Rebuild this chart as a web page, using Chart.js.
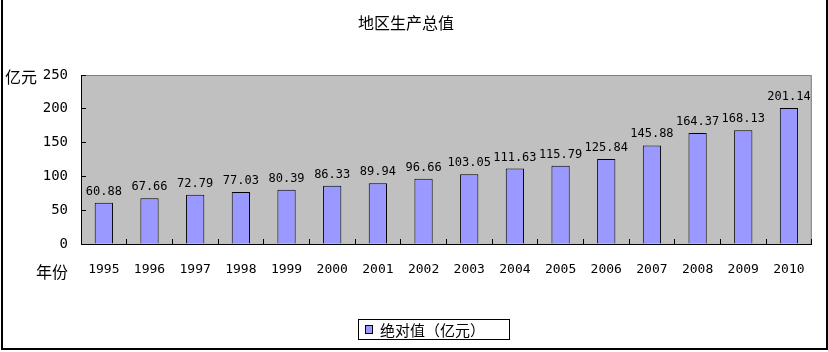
<!DOCTYPE html>
<html>
<head>
<meta charset="utf-8">
<script src="https://cdn.jsdelivr.net/npm/chart.js@4/dist/chart.umd.min.js"></script>
<style>
  html, body { margin: 0; padding: 0; background: #fff; }
  #wrap { width: 828px; height: 352px; }
</style>
</head>
<body>
<div id="wrap"><canvas id="barChart" width="828" height="352"></canvas></div>
<script>
// 数据
const years = ['1995','1996','1997','1998','1999','2000','2001','2002','2003','2004','2005','2006','2007','2008','2009','2010'];
const values = [60.88, 67.66, 72.79, 77.03, 80.39, 86.33, 89.94, 96.66, 103.05, 111.63, 115.79, 125.84, 145.88, 164.37, 168.13, 201.14];
const valueLabels = ['60.88','67.66','72.79','77.03','80.39','86.33','89.94','96.66','103.05','111.63','115.79','125.84','145.88','164.37','168.13','201.14'];
const yTicks = [0, 50, 100, 150, 200, 250];
const chartTitle = '地区生产总值';
const yUnit = '亿元';
const xUnit = '年份';
const seriesName = '绝对值（亿元）';

const CJK = '"Noto Sans CJK SC", sans-serif';
const MONO = '"DejaVu Sans Mono", monospace';

// 画背景、边框、标题、数据标签和图例
const decorPlugin = {
    id: 'decor',
    beforeDraw(chart) {
        const { ctx, chartArea: a } = chart;
        ctx.save();
        ctx.fillStyle = '#fff';
        ctx.fillRect(0, 0, chart.width, chart.height);
        ctx.fillStyle = '#c0c0c0';
        ctx.fillRect(a.left, a.top, a.right - a.left, a.bottom - a.top);
        ctx.strokeStyle = '#808080';
        ctx.lineWidth = 1;
        ctx.beginPath();
        ctx.moveTo(a.left, a.top + 0.5);
        ctx.lineTo(a.right - 0.5, a.top + 0.5);
        ctx.lineTo(a.right - 0.5, a.bottom);
        ctx.stroke();
        ctx.restore();
    },
    afterDraw(chart) {
        const { ctx } = chart;
        ctx.save();
        // 外框
        ctx.fillStyle = '#000';
        ctx.fillRect(1, 0, 2, 350);
        ctx.fillRect(826, 0, 2, 350);
        ctx.fillRect(1, 348, 827, 2);

        // 标题
        ctx.fillStyle = '#000';
        ctx.textAlign = 'center';
        ctx.textBaseline = 'middle';
        ctx.font = '16px ' + CJK;
        ctx.fillText(chartTitle, 406, 23);

        // 轴单位
        ctx.textAlign = 'left';
        ctx.fillText(yUnit, 5, 77);
        ctx.fillText(xUnit, 36, 272);

        // 数据标签
        ctx.textAlign = 'center';
        ctx.textBaseline = 'alphabetic';
        ctx.font = '12px ' + MONO;
        const meta = chart.getDatasetMeta(0);
        meta.data.forEach((bar, i) => {
            ctx.fillText(valueLabels[i], bar.x, bar.y - 8);
        });

        // 图例
        const lx = 358, ly = 319, lw = 151, lh = 20;
        ctx.fillStyle = '#fff';
        ctx.fillRect(lx, ly, lw, lh);
        ctx.strokeStyle = '#000';
        ctx.lineWidth = 1;
        ctx.strokeRect(lx + 0.5, ly + 0.5, lw, lh);
        ctx.fillStyle = '#9999ff';
        ctx.fillRect(365, 325, 7, 8);
        ctx.strokeRect(365.5, 325.5, 7, 8);
        ctx.fillStyle = '#000';
        ctx.textAlign = 'left';
        ctx.textBaseline = 'middle';
        ctx.font = '15px ' + CJK;
        ctx.fillText(seriesName, 380, 330);
        ctx.restore();
    }
};

new Chart(document.getElementById('barChart').getContext('2d'), {
    type: 'bar',
    data: {
        labels: years,
        datasets: [{
            label: seriesName,
            data: values,
            backgroundColor: '#9999ff',
            borderColor: '#000',
            borderWidth: 1,
            categoryPercentage: 1,
            barPercentage: 0.4
        }]
    },
    options: {
        responsive: false,
        animation: false,
        layout: { padding: { top: 75, left: 0, right: 13, bottom: 0 } },
        plugins: {
            legend: { display: false },
            title: { display: false },
            tooltip: { enabled: false }
        },
        scales: {
            x: {
                grid: { drawOnChartArea: false, tickLength: -5, color: '#000', offset: true },
                border: { color: '#000', width: 1 },
                ticks: { color: '#000', padding: 23, font: { family: MONO, size: 13 }, maxRotation: 0, autoSkip: false },
                afterFit(scale) { scale.height = 108; }
            },
            y: {
                min: 0,
                max: 250,
                afterBuildTicks(scale) { scale.ticks = yTicks.map(v => ({ value: v })); },
                grid: { drawOnChartArea: false, tickLength: -5, color: '#000' },
                border: { color: '#000', width: 1 },
                ticks: { color: '#000', padding: 18, font: { family: MONO, size: 14 } },
                afterFit(scale) { scale.width = 81; }
            }
        }
    },
    plugins: [decorPlugin]
});
</script>
</body>
</html>
